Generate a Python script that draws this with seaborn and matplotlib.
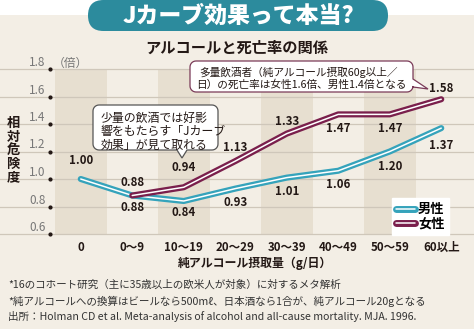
import numpy as np
import pandas as pd
import matplotlib
matplotlib.use("Agg")
import matplotlib.pyplot as plt
import seaborn as sns
from matplotlib.patches import FancyBboxPatch, Polygon, Rectangle
from matplotlib.lines import Line2D
import matplotlib.patheffects as pe
from matplotlib.transforms import blended_transform_factory

plt.rcParams['font.family'] = ['Noto Sans CJK JP', 'DejaVu Sans']

# ---------------- data ----------------
categories = ['0', '0〜9', '10〜19', '20〜29', '30〜39', '40〜49', '50〜59', '60以上']
men = [1.00, 0.88, 0.84, 0.93, 1.01, 1.06, 1.20, 1.37]
women = [np.nan, 0.88, 0.94, 1.13, 1.33, 1.47, 1.47, 1.58]
yticks = [0.6, 0.8, 1.0, 1.2, 1.4, 1.6, 1.8]
series_names = ['男性', '女性']

# label offsets (pixels, + = above)
men_off = [19, -12, -12, -14, -14, -14, -15, -17]
women_off = [0, 13.5, 20, 14, 12.5, -14, -14, 11]

# ---------------- style ----------------
BG = '#f3eee5'
SHADE = '#e7dfd0'
GRID = '#cfc7ba'
TEAL = '#35a3bb'
MAROON = '#7a1f4c'
PILL = '#2c8b9d'
DARK = '#231815'

fig = plt.figure(figsize=(4.74, 3.29), dpi=100)
fig.patch.set_facecolor('white')

# background (pixel coordinates)
bg = fig.add_axes([0, 0, 1, 1], zorder=0)
bg.set_xlim(0, 474)
bg.set_ylim(329, 0)
bg.axis('off')
bg.add_patch(Rectangle((0, 15), 474, 320, facecolor=BG, edgecolor='none'))

# main axes
ax = fig.add_axes([55 / 474, 95 / 329, 412 / 474, 165 / 329], zorder=1)
ax.patch.set_alpha(0)
ax.set_xlim(-0.5, len(categories) - 0.5)
ax.set_ylim(yticks[0], yticks[-1])
for s in ax.spines.values():
    s.set_visible(False)

for i in range(0, len(categories), 2):
    ax.axvspan(i - 0.5, i + 0.5, color=SHADE, zorder=0, lw=0)
for v in yticks:
    ax.axhline(v, xmin=-0.14, xmax=1.02, color=GRID, lw=0.9, zorder=1, clip_on=False)

btr = blended_transform_factory(ax.transAxes, ax.transData)
ax.scatter([-5 / 412] * len(yticks), yticks, s=4, color=DARK, transform=btr,
           clip_on=False, zorder=3)

ax.set_yticks(yticks, [f'{v:.1f}' for v in yticks])
ax.tick_params(axis='y', length=0, pad=7, labelsize=8.5, labelcolor='#777777')
for lbl in ax.get_yticklabels():
    lbl.set_va('bottom')
ax.set_xticks(range(len(categories)), categories)
ax.tick_params(axis='x', length=0, pad=5, labelsize=8.3, labelcolor=DARK)
for lbl in ax.get_xticklabels():
    lbl.set_fontweight('bold')

x = list(range(len(categories)))
df_m = pd.DataFrame({'x': x, 'y': men})
df_w = pd.DataFrame({'x': x, 'y': women})

LW_OUT, LW_IN = 4.4, 1.1
for df, col in [(df_m, TEAL), (df_w, MAROON)]:
    sns.lineplot(data=df, x='x', y='y', ax=ax, color='white', lw=LW_IN,
                 estimator=None, zorder=5)
    ln = ax.lines[-1]
    ln.set_path_effects([pe.Stroke(linewidth=LW_OUT, foreground=col), pe.Normal()])
    ln.set_solid_capstyle('round')
    ln.set_solid_joinstyle('round')
ax.set_xlabel('')
ax.set_ylabel('')

num_font = dict(fontsize=8.3, fontweight='bold', color=DARK,
                family=['Liberation Sans Narrow', 'Noto Sans CJK JP'])
for vals, offs in [(men, men_off), (women, women_off)]:
    for i, (v, o) in enumerate(zip(vals, offs)):
        if np.isnan(v):
            continue
        ax.annotate(f'{v:.2f}', (i, v), xytext=(0, o * 0.72), textcoords='offset points',
                    ha='center', va='center', zorder=6, **num_font)

# legend
handles = []
for col in [TEAL, MAROON]:
    h = Line2D([], [], color='white', lw=LW_IN, solid_capstyle='round')
    h.set_path_effects([pe.Stroke(linewidth=LW_OUT + 0.6, foreground=col), pe.Normal()])
    handles.append(h)
leg = ax.legend(handles, series_names, loc='upper left',
                bbox_to_anchor=(385 / 474, 1 - 191 / 329), bbox_transform=fig.transFigure,
                frameon=True, fancybox=False, framealpha=1, facecolor='white',
                edgecolor='white', handlelength=1.4, handletextpad=0.25,
                labelspacing=0.0, borderpad=0.35, prop=dict(size=9.5, weight='bold'))
leg.set_zorder(7)

# overlay (pixel coordinates)
ov = fig.add_axes([0, 0, 1, 1], zorder=3)
ov.set_xlim(0, 474)
ov.set_ylim(329, 0)
ov.axis('off')
ov.patch.set_alpha(0)


def arc(cx, cy, r, a0, a1, n=8):
    t = np.radians(np.linspace(a0, a1, n))
    return [(cx + r * np.cos(a), cy + r * np.sin(a)) for a in t]


def callout(x0, y0, x1, y1, r, side, ptr):
    v = []
    v += arc(x0 + r, y0 + r, r, 180, 270)
    v += arc(x1 - r, y0 + r, r, 270, 360)
    if side == 'right':
        v += ptr
    v += arc(x1 - r, y1 - r, r, 0, 90)
    if side == 'bottom':
        v += ptr
    v += arc(x0 + r, y1 - r, r, 90, 180)
    return v


c1 = callout(93, 105, 218, 150, 6, 'bottom', [(187, 150), (182, 158), (177, 150)])
ov.add_patch(Polygon(c1, closed=True, facecolor='white', edgecolor='#555555', lw=0.9))
ov.text(101, 118, '少量の飲酒では好影', fontsize=8.6, va='center', color=DARK)
ov.text(101, 131.5, '響をもたらす「Jカーブ', fontsize=8.6, va='center', color=DARK)
ov.text(101, 145, '効果」が見て取れる', fontsize=8.6, va='center', color=DARK)

c2 = callout(190, 61, 413, 92, 6, 'right', [(413, 79), (428, 89), (413, 87)])
ov.add_patch(Polygon(c2, closed=True, facecolor='white', edgecolor='#7a3a58', lw=0.9))
ov.text(199, 72.5, '多量飲酒者（純アルコール摂取60g以上／', fontsize=7.7, va='center', color=DARK)
ov.text(196, 85, '日）の死亡率は女性1.6倍、男性1.4倍となる', fontsize=7.7, va='center', color=DARK)

# title pill
ov.add_patch(FancyBboxPatch((88, 0), 300, 31, boxstyle='round,pad=0,rounding_size=15.5',
                            facecolor=PILL, edgecolor='none'))
ov.text(238, 16.5, 'Jカーブ効果って本当?', fontsize=16.5, fontweight='heavy', color='white',
        ha='center', va='center')
ov.text(237, 48, 'アルコールと死亡率の関係', fontsize=11, fontweight='bold', color=DARK,
        ha='center', va='center')
ov.text(53, 63, '（倍）', fontsize=8.5, color='#777777', va='center')
ov.text(13, 150, '相\n対\n危\n険\n度', fontsize=9.5, fontweight='bold', color=DARK,
        ha='center', va='center', linespacing=0.95)
ov.text(255, 263, '純アルコール摂取量（g/日）', fontsize=8.6, fontweight='bold', color=DARK,
        ha='center', va='center')

notes = ['*16のコホート研究（主に35歳以上の欧米人が対象）に対するメタ解析',
         '*純アルコールへの換算はビールなら500mℓ、日本酒なら1合が、純アルコール20gとなる',
         '出所：Holman CD et al. Meta-analysis of alcohol and all-cause mortality. MJA. 1996.']
for k, t in enumerate(notes):
    ov.text(8, 285 + k * 16, t, fontsize=7.6, color='#333333', va='center')

fig.savefig('out.png', dpi=100)
